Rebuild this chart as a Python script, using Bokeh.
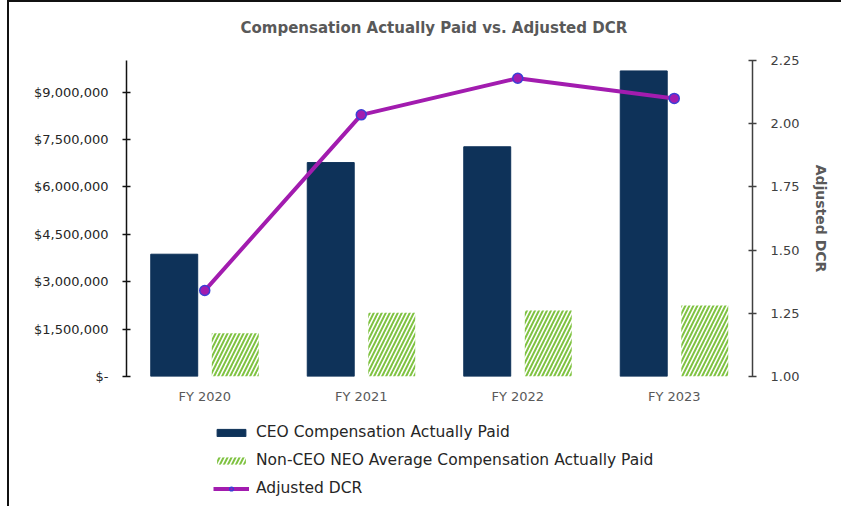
from bokeh.plotting import figure
from bokeh.layouts import column
from bokeh.models import (FactorRange, Range1d, LinearAxis, FixedTicker, Legend, LegendItem,
                          ColumnDataSource, Label)
from bokeh.transform import dodge
from bokeh.embed import file_html
from bokeh.resources import INLINE

title_text = "Compensation Actually Paid vs. Adjusted DCR"
years = ["FY 2020", "FY 2021", "FY 2022", "FY 2023"]
ceo_cap = [3870000, 6770000, 7270000, 9670000]
neo_cap = [1370000, 2020000, 2090000, 2250000]
adj_dcr = [1.34, 2.035, 2.18, 2.10]

left_ticks = [0, 1500000, 3000000, 4500000, 6000000, 7500000, 9000000]
left_labels = ["$-", "$1,500,000", "$3,000,000", "$4,500,000", "$6,000,000", "$7,500,000", "$9,000,000"]
right_ticks = [1.0, 1.25, 1.5, 1.75, 2.0, 2.25]
right_labels = ["1.00", "1.25", "1.50", "1.75", "2.00", "2.25"]

FONT = "DejaVu Sans"
NAVY = "#0E3259"
GREEN = "#80C342"
PURPLE = "#A21CAF"
BLUE = "#3B3FD6"

src = ColumnDataSource(dict(year=years, ceo=ceo_cap, neo=neo_cap, dcr=adj_dcr))


def draw(fig, yname=None):
    kw = {} if yname is None else {"y_range_name": yname}
    c = fig.vbar(x=dodge("year", -0.195, range=fig.x_range), top="ceo", width=0.30, source=src,
                 fill_color=NAVY, line_color=NAVY)
    n = fig.vbar(x=dodge("year", 0.195, range=fig.x_range), top="neo", width=0.30, source=src,
                 fill_color="white", line_color=None, hatch_pattern="/", hatch_scale=8,
                 hatch_weight=2, hatch_color=GREEN)
    l = fig.line(x="year", y="dcr", source=src, line_color=PURPLE, line_width=4, **kw)
    d = fig.scatter(x="year", y="dcr", source=src, size=10, fill_color=PURPLE,
                    line_color=BLUE, line_width=1.5, **kw)
    return c, n, l, d


def bare(height):
    f = figure(width=832, height=height, x_range=Range1d(0, 1), y_range=Range1d(0, 1),
               output_backend="svg", toolbar_location=None,
               x_axis_location=None, y_axis_location=None,
               min_border_left=0, min_border_right=0, min_border_top=0, min_border_bottom=0)
    f.outline_line_color = None
    f.xgrid.visible = False
    f.ygrid.visible = False
    return f


# title strip
t = bare(50)
t.add_layout(Label(x=0.491, y=0.5, text=title_text, text_align="center", text_baseline="middle",
                   text_font=FONT, text_font_size="15px", text_font_style="bold",
                   text_color="#595959"))

# main chart
p = figure(width=832, height=358, x_range=FactorRange(*years), y_range=Range1d(0, 10000000),
           output_backend="svg", toolbar_location=None,
           min_border_left=117, min_border_right=89, min_border_top=8, min_border_bottom=34)
p.extra_y_ranges = {"dcr": Range1d(1.0, 2.25)}
p.x_range.range_padding = 0
p.outline_line_color = None
p.xgrid.visible = False
p.ygrid.visible = False

draw(p, "dcr")

# x axis
xa = p.xaxis[0]
xa.axis_line_color = None
xa.major_tick_line_color = None
xa.minor_tick_line_color = None
xa.major_label_text_font = FONT
xa.major_label_text_font_size = "13px"
xa.major_label_text_color = "#595959"
xa.major_label_standoff = 6

# left axis
ya = p.yaxis[0]
ya.ticker = FixedTicker(ticks=left_ticks)
ya.major_label_overrides = dict(zip(left_ticks, left_labels))
ya.axis_line_color = "#111111"
ya.axis_line_width = 1.5
ya.major_tick_line_color = "#111111"
ya.major_tick_line_width = 1.5
ya.major_tick_in = 4
ya.major_tick_out = 4
ya.minor_tick_line_color = None
ya.major_label_text_font = FONT
ya.major_label_text_font_size = "13px"
ya.major_label_text_color = "#262626"
ya.major_label_standoff = 14

# right axis
ra = LinearAxis(y_range_name="dcr", ticker=FixedTicker(ticks=right_ticks),
                axis_label="Adjusted DCR")
ra.major_label_overrides = dict(zip(right_ticks, right_labels))
ra.axis_line_color = "#404040"
ra.axis_line_width = 1.5
ra.major_tick_line_color = "#404040"
ra.major_tick_line_width = 1.5
ra.major_tick_in = 4
ra.major_tick_out = 4
ra.minor_tick_line_color = None
ra.major_label_text_font = FONT
ra.major_label_text_font_size = "13px"
ra.major_label_text_color = "#404040"
ra.major_label_standoff = 14
ra.axis_label_text_font = FONT
ra.axis_label_text_font_size = "14px"
ra.axis_label_text_font_style = "bold"
ra.axis_label_text_color = "#595959"
ra.axis_label_standoff = 11
p.add_layout(ra, "right")

# legend strip: its own copies of the glyphs are hidden, only the legend shows
q = figure(width=832, height=96, x_range=FactorRange(*years), y_range=Range1d(0, 10000000),
           output_backend="svg", toolbar_location=None,
           x_axis_location=None, y_axis_location=None,
           min_border_left=0, min_border_right=0, min_border_top=0, min_border_bottom=0)
q.outline_line_color = None
q.xgrid.visible = False
q.ygrid.visible = False
c2, n2, l2, d2 = draw(q)
for r in (c2, n2, l2, d2):
    r.visible = False

legend = Legend(items=[
    LegendItem(label="CEO Compensation Actually Paid", renderers=[c2]),
    LegendItem(label="Non-CEO NEO Average Compensation Actually Paid", renderers=[n2]),
    LegendItem(label="Adjusted DCR", renderers=[l2, d2]),
], location=(87, 8), orientation="vertical", padding=0, margin=0,
    glyph_width=36, glyph_height=9, label_height=20, spacing=8, label_standoff=7,
    label_text_font=FONT, label_text_font_size="15.5px", label_text_color="#262626",
    border_line_color=None, background_fill_alpha=0, inactive_fill_alpha=0)
q.add_layout(legend, "center")

layout = column(t, p, q, spacing=0,
                styles={"margin-left": "7px", "border-left": "2px solid #111111",
                        "border-top": "2px solid #111111"})

open("out.html", "w").write(file_html(layout, INLINE))
